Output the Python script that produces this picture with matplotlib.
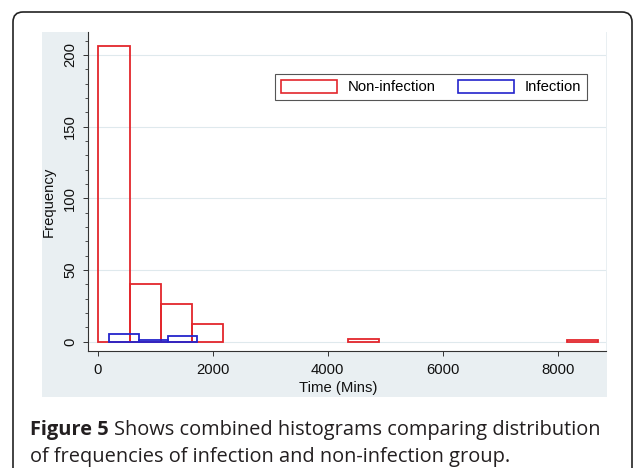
import matplotlib
matplotlib.use("Agg")
import matplotlib.pyplot as plt
from matplotlib.patches import Rectangle, FancyBboxPatch, Patch
from matplotlib.ticker import MultipleLocator
from matplotlib.transforms import IdentityTransform

# histogram counts
non_inf_counts = [206, 40, 26, 12, 0, 0, 0, 0, 2, 0, 0, 0, 0, 0, 0, 1]
non_inf_start = 10
non_inf_width = 543

inf_counts = [5, 1, 4]
inf_start = 200
inf_width = 510

x_ticks = [0, 2000, 4000, 6000, 8000]
y_ticks = [0, 50, 100, 150, 200]

red = "#e3262c"
blue = "#2424cc"
W, H = 634, 468

fig = plt.figure(figsize=(W / 100, H / 100), dpi=100)
fig.patch.set_facecolor("white")

# outer rounded frame of the figure panel
fig.patches.append(FancyBboxPatch((13, -20), 619, 476, boxstyle="round,pad=0,rounding_size=10",
                                  transform=IdentityTransform(), fill=False,
                                  edgecolor="#222222", linewidth=1.2, zorder=-5))
# Stata-like graph region
fig.patches.append(Rectangle((42 / W, 1 - 397 / H), (607 - 42) / W, (397 - 32) / H,
                             transform=fig.transFigure, facecolor="#e9eff2", edgecolor="none",
                             zorder=-10))

ax = fig.add_axes([88 / W, 1 - 350.7 / H, (606 - 88) / W, (350.7 - 32) / H])
ax.set_facecolor("white")

font = "Liberation Sans"
fs = 10.7

# draw bars, skip empty bins
xs = [non_inf_start + i * non_inf_width for i in range(len(non_inf_counts))]
keep = [i for i, c in enumerate(non_inf_counts) if c > 0]
ax.bar([xs[i] for i in keep], [non_inf_counts[i] for i in keep], width=non_inf_width,
       align="edge", fill=False, edgecolor=red, linewidth=1.3, zorder=3)
xs_b = [inf_start + i * inf_width for i in range(len(inf_counts))]
ax.bar(xs_b, inf_counts, width=inf_width, align="edge", fill=False,
       edgecolor=blue, linewidth=1.3, zorder=4)

ax.set_xlim(-169, 8840)
ax.set_ylim(-6.3, 216)
ax.set_xticks(x_ticks)
ax.set_yticks(y_ticks)
ax.yaxis.set_minor_locator(MultipleLocator(10))
ax.grid(axis="y", color="#dfe9ed", linewidth=0.8, zorder=0)
ax.set_axisbelow(True)

for s in ["top", "right"]:
    ax.spines[s].set_visible(False)
for s in ["left", "bottom"]:
    ax.spines[s].set_color("#333333")
    ax.spines[s].set_linewidth(0.8)

ax.tick_params(axis="both", which="major", length=3.6, width=0.7, color="#333333",
               labelsize=fs, labelcolor="#111111")
ax.tick_params(axis="x", pad=5)
ax.tick_params(axis="y", pad=4.3)
ax.tick_params(axis="y", which="minor", length=2.2, width=0.6, color="#333333")
for lab in ax.get_xticklabels() + ax.get_yticklabels():
    lab.set_fontfamily(font)
plt.setp(ax.get_yticklabels(), rotation=90, va="center")

ax.set_xlabel("Time (Mins)", fontsize=fs, fontfamily=font, color="#111111")
ax.xaxis.set_label_coords((338 - 88) / 518, (350.7 - 388) / 318.7)
ax.xaxis.label.set_va("center")
ax.set_ylabel("Frequency", fontsize=fs, fontfamily=font, color="#111111")
ax.yaxis.set_label_coords((48.3 - 88) / 518, (350.7 - 202) / 318.7)
ax.yaxis.label.set_va("center")

handles = [Patch(facecolor="none", edgecolor=red, linewidth=1.2, label="Non-infection"),
           Patch(facecolor="none", edgecolor=blue, linewidth=1.2, label="Infection")]
leg = fig.legend(handles=handles, loc="upper left", bbox_to_anchor=(275 / W, 1 - 74 / H),
                 ncol=2, fancybox=False, framealpha=1, edgecolor="#555555",
                 prop={"family": font, "size": fs}, handlelength=3.77, handleheight=0.95,
                 handletextpad=0.7, columnspacing=1.55, borderpad=0.4, borderaxespad=0)
leg.get_frame().set_linewidth(0.8)

# caption below the graph
cap_font = "Open Sans"
cap_fs = 14.4
t1 = fig.text(30 / W, 1 - 435 / H, "Figure 5", fontsize=cap_fs, fontfamily=cap_font,
              fontweight="bold", va="baseline", color="#231f20")
fig.canvas.draw()
bb = t1.get_window_extent()
fig.text((bb.x1 + 5) / W, 1 - 435 / H, "Shows combined histograms comparing distribution",
         fontsize=cap_fs, fontfamily=cap_font, va="baseline", color="#231f20")
fig.text(30 / W, 1 - 461.7 / H, "of frequencies of infection and non-infection group.",
         fontsize=cap_fs, fontfamily=cap_font, va="baseline", color="#231f20")

fig.savefig("out.png", dpi=100)
